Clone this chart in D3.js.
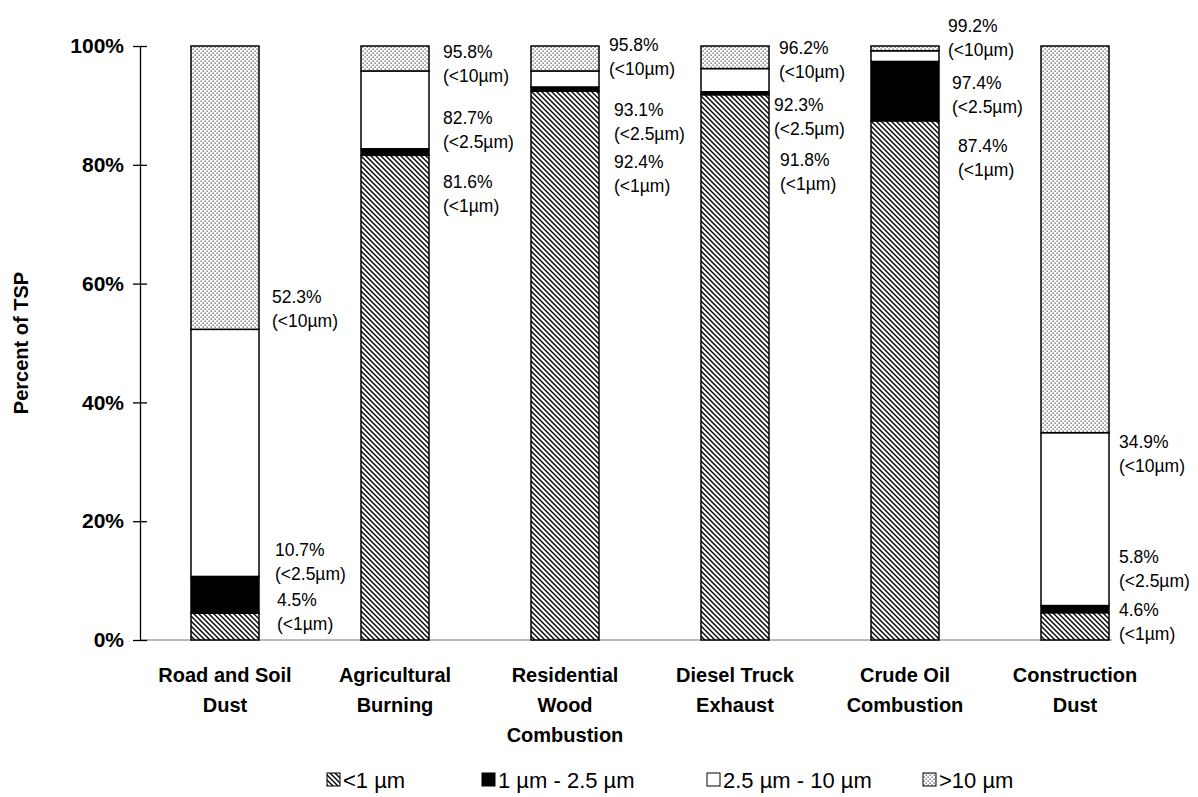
<!DOCTYPE html>
<html>
<head>
<meta charset="utf-8">
<script src="https://cdn.jsdelivr.net/npm/d3@7"></script>
<style>
  body { margin: 0; background: #fff; }
  text { font-family: Arial, "Liberation Sans", sans-serif; fill: #000; }
</style>
</head>
<body>
<div id="chart"></div>
<script>
const categories = ["Road and Soil\nDust", "Agricultural\nBurning", "Residential\nWood\nCombustion",
                    "Diesel Truck\nExhaust", "Crude Oil\nCombustion", "Construction\nDust"];
// cumulative percent of TSP below each cut size
const pm1 = [4.5, 81.6, 92.4, 91.8, 87.4, 4.6];
const pm25 = [10.7, 82.7, 93.1, 92.3, 97.4, 5.8];
const pm10 = [52.3, 95.8, 95.8, 96.2, 99.2, 34.9];
const sizeClasses = ["<1 µm", "1 µm - 2.5 µm", "2.5 µm - 10 µm", ">10 µm"];
const yTicks = [0, 20, 40, 60, 80, 100];

// label nudges (px) for [<10, <2.5, <1] labels, hand placed like the original
const labelDy = [[-32, -27, -13], [-19, -31, 27], [-26, 23, 71], [-21, 13, 65], [-25, 21, 25], [9, -49, -3]];
const labelDx = [[13, 16, 18], [14, 14, 14], [10, 15, 15], [10, 5, 11], [9, 13, 19], [10, 10, 10]];

const width = 1198, height = 797,
      margin = ({ top: 46, right: 38, bottom: 157, left: 140 });

const keys = ["s1", "s2", "s3", "s4"];
const table = categories.map((c, i) => ({
    category: c,
    s1: pm1[i],
    s2: pm25[i] - pm1[i],
    s3: pm10[i] - pm25[i],
    s4: 100 - pm10[i]
}));
const series = d3.stack().keys(keys)(table);

let svg = d3.select("#chart")
    .append("svg")
    .attr("width", width)
    .attr("height", height);

let defs = svg.append("defs");

let hatch = defs.append("pattern")
    .attr("id", "hatch")
    .attr("patternUnits", "userSpaceOnUse")
    .attr("width", 5).attr("height", 5);
hatch.append("rect").attr("width", 5).attr("height", 5).attr("fill", "#fff");
hatch.append("path")
    .attr("d", "M0,0 L5,5 M-1,4 L1,6 M4,-1 L6,1")
    .attr("stroke", "#000")
    .attr("stroke-width", 1.4);

let dots = defs.append("pattern")
    .attr("id", "dots")
    .attr("patternUnits", "userSpaceOnUse")
    .attr("width", 4).attr("height", 4);
dots.append("rect").attr("width", 4).attr("height", 4).attr("fill", "#fff");
dots.append("rect").attr("x", 0.5).attr("y", 0.5).attr("width", 1.3).attr("height", 1.3).attr("fill", "#555");
dots.append("rect").attr("x", 2.5).attr("y", 2.5).attr("width", 1.3).attr("height", 1.3).attr("fill", "#555");

const fills = { s1: "url(#hatch)", s2: "#000", s3: "#fff", s4: "url(#dots)" };

let x = d3.scaleBand()
    .domain(categories)
    .range([margin.left, margin.left + 6 * 170])
    .paddingInner(0.6)
    .paddingOuter(0.3);

let y = d3.scaleLinear()
    .domain([0, 100])
    .range([height - margin.bottom, margin.top]);

// baseline
svg.append("line")
    .attr("x1", margin.left).attr("x2", x(categories[5]) + x.bandwidth() + 3)
    .attr("y1", y(0)).attr("y2", y(0))
    .attr("stroke", "#777")
    .attr("stroke-width", 1);

// y axis
let yAxis = svg.append("g")
    .attr("transform", `translate(${margin.left},0)`)
    .call(d3.axisLeft(y).tickValues(yTicks).tickFormat(d => d + "%").tickSize(7).tickSizeOuter(0).tickPadding(9));
yAxis.select(".domain").attr("stroke", "#000").attr("stroke-width", 1.3);
yAxis.selectAll(".tick line").attr("x1", 7).attr("stroke-width", 1.3);
yAxis.selectAll(".tick text")
    .style("font-family", "Arial, 'Liberation Sans', sans-serif")
    .style("font-size", "21px")
    .style("font-weight", "bold");

svg.append("text")
    .attr("transform", `translate(23,${(y(0) + y(100)) / 2}) rotate(-90)`)
    .attr("text-anchor", "middle")
    .attr("dominant-baseline", "middle")
    .style("font-size", "20px")
    .style("font-weight", "bold")
    .text("Percent of TSP");

// bars
svg.append("g")
    .selectAll("g")
    .data(series)
    .join("g")
    .attr("fill", d => fills[d.key])
    .selectAll("rect")
    .data(d => d)
    .join("rect")
    .attr("x", d => x(d.data.category))
    .attr("width", x.bandwidth())
    .attr("y", d => y(d[1]))
    .attr("height", d => y(d[0]) - y(d[1]))
    .attr("stroke", "#000")
    .attr("stroke-width", 1.5);

// value labels
const cuts = [["<10µm", pm10], ["<2.5µm", pm25], ["<1µm", pm1]];
let labels = [];
categories.forEach((c, i) => {
    cuts.forEach(([name, arr], j) => {
        labels.push({ c, v: arr[i], name, dx: labelDx[i][j], dy: labelDy[i][j] });
    });
});

let lab = svg.append("g")
    .selectAll("text")
    .data(labels)
    .join("text")
    .attr("x", d => x(d.c) + x.bandwidth() + d.dx)
    .attr("y", d => y(d.v) + d.dy)
    .style("font-size", "17.5px");
lab.append("tspan")
    .attr("dy", "0.35em")
    .text(d => d.v.toFixed(1) + "%");
lab.append("tspan")
    .attr("x", d => x(d.c) + x.bandwidth() + d.dx)
    .attr("dy", 24)
    .text(d => "(" + d.name + ")");

// category labels
let cat = svg.append("g")
    .selectAll("text")
    .data(categories)
    .join("text")
    .attr("text-anchor", "middle")
    .attr("y", 675)
    .style("font-size", "20px")
    .style("font-weight", "bold");
cat.selectAll("tspan")
    .data(d => d.split("\n").map(t => ({ t, d })))
    .join("tspan")
    .attr("x", d => x(d.d) + x.bandwidth() / 2)
    .attr("dy", (d, i) => i === 0 ? "0.35em" : 30)
    .text(d => d.t);

// legend
const legendX = [327, 482, 707, 923];
let legend = svg.append("g")
    .selectAll("g")
    .data(sizeClasses)
    .join("g")
    .attr("transform", (d, i) => `translate(${legendX[i]},780)`);
legend.append("rect")
    .attr("x", 0).attr("y", -7)
    .attr("width", 13).attr("height", 13)
    .attr("fill", (d, i) => fills[keys[i]])
    .attr("stroke", "#000")
    .attr("stroke-width", 1);
legend.append("text")
    .attr("x", 16)
    .attr("dy", "0.35em")
    .style("font-size", "22px")
    .text(d => d);
</script>
</body>
</html>
